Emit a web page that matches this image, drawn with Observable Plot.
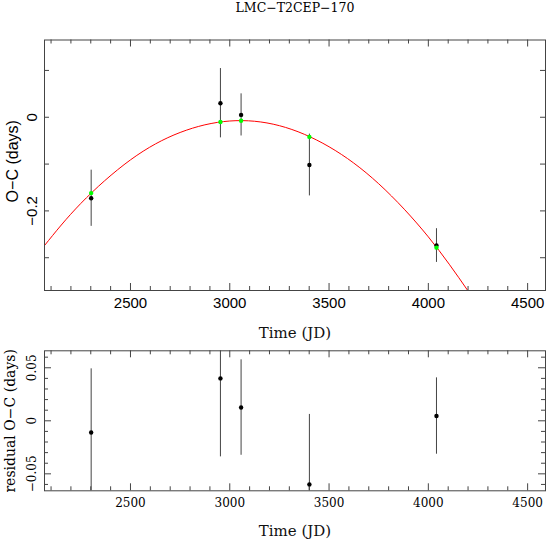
<!DOCTYPE html>
<html>
<head>
<meta charset="utf-8">
<script src="https://cdn.jsdelivr.net/npm/d3@7"></script>
<script src="https://cdn.jsdelivr.net/npm/@observablehq/plot@0.6"></script>
<style>
  html, body { margin: 0; padding: 0; background: #fff; }
  #chart { width: 546px; }
  #chart svg { display: block; }
</style>
</head>
<body>
<div id="chart"></div>
<script>
// ---- data ----
const title = "LMC\u2212T2CEP\u2212170";
const times = [2302, 2953, 3057, 3401, 4041];          // JD
const oc = [-0.173, 0.030, 0.005, -0.102, -0.274];      // observed O-C (days)
const errs = [0.060, 0.074, 0.045, 0.066, 0.036];       // error bars (days)
const model = [-0.162, -0.010, -0.0075, -0.042, -0.2785]; // fitted values (green)
const residuals = [-0.011, 0.040, 0.0125, -0.060, 0.0045];
// fitted curve (red)
const curveT = [2067, 2250, 2500, 2750, 3000, 3250, 3500, 3750, 4000, 4200];
const curveV = [-0.274, -0.184, -0.091, -0.0325, -0.008, -0.018, -0.063, -0.142, -0.2555, -0.371];
// tick labels
const xTickLabels = [2500, 3000, 3500, 4000, 4500];
const topYTicks = [-0.2, 0];
const topYMinor = [-0.3, -0.1, 0.1];
const botYTicks = [-0.05, 0, 0.05];
const botYMinor = [-0.06, -0.04, -0.03, -0.02, -0.01, 0.01, 0.02, 0.03, 0.04, 0.06];
const xMinor = d3.range(2100, 4600, 100).filter(d => d % 500 !== 0);

const pts = times.map((t, i) => ({t, oc: oc[i], e: errs[i], m: model[i], r: residuals[i]}));
const curve = curveT.map((t, i) => ({t, v: curveV[i]}));

const W = 546;
const frameCol = "#444";
const fmtMinus = v => (v < 0 ? "\u2212" : "") + String(Math.abs(v));

function tickMarks(xMaj, xMin, yMaj, yMin, fw, fh, xMajLen, xMinLen, yMajLen, yMinLen) {
  const o = {stroke: frameCol, strokeWidth: 1};
  return [
    Plot.tickX(xMaj, {x: d => d, insetTop: fh - xMajLen, ...o}),
    Plot.tickX(xMaj, {x: d => d, insetBottom: fh - xMajLen, ...o}),
    Plot.tickX(xMin, {x: d => d, insetTop: fh - xMinLen, ...o}),
    Plot.tickX(xMin, {x: d => d, insetBottom: fh - xMinLen, ...o}),
    Plot.tickY(yMaj, {y: d => d, insetRight: fw - yMajLen, ...o}),
    Plot.tickY(yMaj, {y: d => d, insetLeft: fw - yMajLen, ...o}),
    Plot.tickY(yMin, {y: d => d, insetRight: fw - yMinLen, ...o}),
    Plot.tickY(yMin, {y: d => d, insetLeft: fw - yMinLen, ...o})
  ];
}

// ---- top panel ----
const H1 = 342, mt1 = 39.5, mb1 = 52, ml = 44, mr = 1;
const fw = W - ml - mr, fh1 = H1 - mt1 - mb1;
const xDomain = [2067, 4590];

const topPanel = Plot.plot({
  width: W, height: H1,
  marginTop: mt1, marginBottom: mb1, marginLeft: ml, marginRight: mr,
  style: {background: "white", overflow: "visible"},
  x: {domain: xDomain, axis: null},
  y: {domain: [-0.370, 0.165], axis: null},
  marks: [
    Plot.ruleX(pts, {x: "t", y1: d => d.oc - d.e, y2: d => d.oc + d.e, stroke: "#444", strokeWidth: 1, clip: true}),
    Plot.line(curve, {x: "t", y: "v", stroke: "#ff0000", strokeWidth: 1, curve: "natural", clip: true}),
    Plot.dot(pts, {x: "t", y: "oc", r: 2.2, fill: "black", stroke: "none"}),
    Plot.dot(pts, {x: "t", y: "m", r: 2.2, fill: "#00ff00", stroke: "none"}),
    ...tickMarks(xTickLabels, xMinor, topYTicks, topYMinor, fw, fh1, 7, 4, 5, 5),
    Plot.frame({stroke: frameCol, strokeWidth: 1}),
    Plot.text(xTickLabels, {x: d => d, frameAnchor: "bottom", dy: 13, lineAnchor: "middle",
      text: d => String(d), fontFamily: "Liberation Sans", fontSize: 15, fill: "black"}),
    Plot.text(topYTicks, {y: d => d, frameAnchor: "left", dx: -12, rotate: -90, lineAnchor: "middle",
      textAnchor: "middle", text: d => fmtMinus(d), fontFamily: "Liberation Sans", fontSize: 15, fill: "black"}),
    Plot.text(["O\u2212C (days)"], {frameAnchor: "left", dx: -32, dy: -4, rotate: -90, lineAnchor: "middle",
      textAnchor: "middle", fontFamily: "Liberation Sans", fontSize: 16, fill: "black"}),
    Plot.text(["Time (JD)"], {frameAnchor: "bottom", dy: 43, lineAnchor: "middle",
      fontFamily: "DejaVu Serif", fontSize: 15, fill: "#111"}),
    Plot.text([title], {frameAnchor: "top", dy: -32.5, lineAnchor: "middle",
      fontFamily: "DejaVu Serif", fontSize: 12.5, fill: "black"})
  ]
});

// ---- bottom panel ----
const H2 = 200, mt2 = 8.3, mb2 = 51.7;
const fh2 = H2 - mt2 - mb2;

const bottomPanel = Plot.plot({
  width: W, height: H2,
  marginTop: mt2, marginBottom: mb2, marginLeft: ml, marginRight: mr,
  style: {background: "white", overflow: "visible"},
  x: {domain: xDomain, axis: null},
  y: {domain: [-0.066, 0.066], axis: null},
  marks: [
    Plot.ruleX(pts, {x: "t", y1: d => d.r - d.e, y2: d => d.r + d.e, stroke: "#444", strokeWidth: 1, clip: true}),
    Plot.dot(pts, {x: "t", y: "r", r: 2.2, fill: "black", stroke: "none"}),
    ...tickMarks(xTickLabels, xMinor, botYTicks, botYMinor, fw, fh2, 7, 4, 7, 4),
    Plot.frame({stroke: frameCol, strokeWidth: 1}),
    Plot.text(xTickLabels, {x: d => d, frameAnchor: "bottom", dy: 12, lineAnchor: "middle",
      text: d => String(d), fontFamily: "DejaVu Serif", fontSize: 12, fill: "black"}),
    Plot.text(botYTicks, {y: d => d, frameAnchor: "left", dx: -12, rotate: -90, lineAnchor: "middle",
      textAnchor: "middle", text: d => fmtMinus(d), fontFamily: "DejaVu Serif", fontSize: 12, fill: "black"}),
    Plot.text(["residual O\u2212C (days)"], {frameAnchor: "left", dx: -34, rotate: -90, lineAnchor: "middle",
      textAnchor: "middle", fontFamily: "DejaVu Serif", fontSize: 14, fill: "black"}),
    Plot.text(["Time (JD)"], {frameAnchor: "bottom", dy: 40, lineAnchor: "middle",
      fontFamily: "DejaVu Serif", fontSize: 15, fill: "#111"})
  ]
});

const el = document.getElementById("chart");
el.appendChild(topPanel);
el.appendChild(bottomPanel);
</script>
</body>
</html>
